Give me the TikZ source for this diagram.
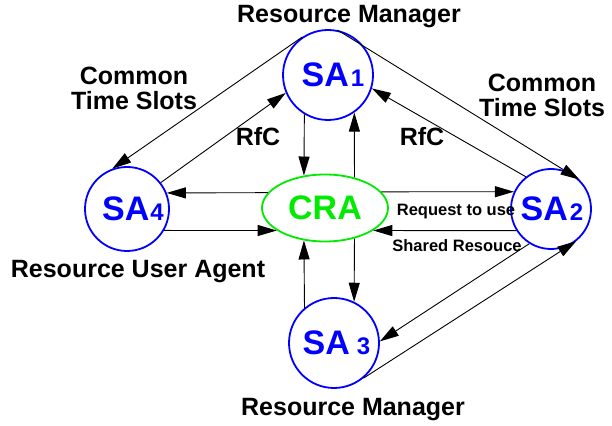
\documentclass[tikz,border=0pt]{standalone}
\usepackage{fontspec}
\setmainfont{Liberation Sans}
\usetikzlibrary{arrows.meta, shapes.geometric}
\definecolor{agentblue}{RGB}{0,0,255}
\definecolor{cragreen}{RGB}{0,235,0}
\newcommand\agentno[1]{{\fontsize{24}{24}\selectfont#1}}

\begin{document}
\begin{tikzpicture}[x=1pt, y=1pt,
    agent/.style={circle, draw=agentblue, line width=1.8pt, text=agentblue,
                  inner sep=0pt, font=\bfseries\fontsize{34}{34}\selectfont},
    hub/.style={ellipse, draw=cragreen, line width=1.8pt, text=cragreen,
                minimum width=126pt, minimum height=67pt, inner sep=0pt,
                font=\bfseries\fontsize{34}{34}\selectfont},
    arr/.style={-{Triangle[length=19pt, width=11pt]}, line width=0.9pt},
    lbl/.style={font=\bfseries\fontsize{25}{25}\selectfont, align=center},
    small/.style={font=\bfseries\fontsize{16.5}{16.5}\selectfont}
  ]
  \useasboundingbox (0,0) rectangle (612,425);

  \node[agent, minimum size=90pt] (sa1) at (328, 350) {\kern10pt SA\kern2pt\agentno{1}};
  \node[agent, minimum size=80pt] (sa2) at (551, 216) {\kern2pt SA\kern2pt\agentno{2}};
  \node[agent, minimum size=90pt] (sa3) at (334, 82) {\kern5pt SA\kern7pt\agentno{3}};
  \node[agent, minimum size=84pt] (sa4) at (127, 216) {\kern12pt SA\kern1pt\agentno{4}};
  \node[hub] (cra) at (325, 217) {CRA};

  \node[lbl] (rmtop) at (349, 408) {Resource Manager};
  \node[lbl] (rmbot) at (353, 15) {Resource Manager};
  \node[lbl] (rua) at (138, 153) {Resource User Agent};
  \node[lbl] (ctsl) at (134, 337) {Common\\Time Slots};
  \node[lbl] (ctsr) at (542, 330) {Common\\Time Slots};
  \node[lbl] (rfcl) at (258, 288) {RfC};
  \node[lbl] (rfcr) at (422, 288) {RfC};
  \node[small] (req) at (456, 213) {Request to use};
  \node[small] (shr) at (457, 179) {Shared Resouce};

  \draw[arr] (sa1.239) -- (cra.123);
  \draw[arr] (cra.46) -- (sa1.305);
  \draw[arr] (cra.314) -- (sa3.64);
  \draw[arr] (sa3.130) -- (cra.237);
  \draw[arr] (cra.165) -- (sa4.22);
  \draw[arr] (sa4.330) -- (cra.205);
  \draw[arr] (cra.16) -- (sa2.155);
  \draw[arr] (sa2.212) -- (cra.335);
  \draw[arr] (sa1.124) -- (sa4.110);
  \draw[arr] (sa4.38) -- (sa1.203);
  \draw[arr] (sa1.78) -- (sa2.46);
  \draw[arr] (sa2.128) -- (sa1.343);
  \draw[arr] (sa2.238) -- (sa3.2);
  \draw[arr] (sa3.310) -- (sa2.308);
\end{tikzpicture}
\end{document}
